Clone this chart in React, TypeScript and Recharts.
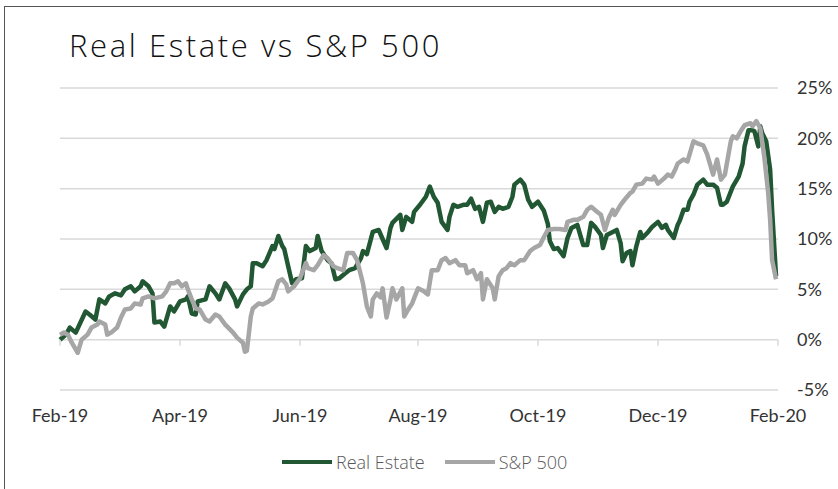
import { LineChart, Line, XAxis, YAxis, CartesianGrid } from "recharts";

// x axis: days since 1 Feb 2019
const TICK_DAYS = [0, 61, 122, 182, 243, 304, 365];
const TICK_LABELS = ["Feb-19", "Apr-19", "Jun-19", "Aug-19", "Oct-19", "Dec-19", "Feb-20"];
const Y_TICKS = [-5, 0, 5, 10, 15, 20, 25];

// Real Estate, cumulative return in %
const reDays = [
  0, 3, 5, 8, 13, 15, 18, 20, 23, 25, 28, 31, 33, 36, 38, 41, 42, 45, 47, 48,
  51, 53, 56, 58, 61, 64, 65, 67, 69, 70, 74, 76, 79, 81, 84, 86, 89, 90, 93, 95,
  97, 98, 100, 103, 105, 108, 109, 111, 113, 114, 116, 118, 120, 123, 125, 127, 130, 131, 133, 136,
  138, 140, 142, 145, 147, 150, 153, 154, 156, 159, 162, 164, 166, 168, 169, 173, 174, 176, 179, 180,
  183, 186, 188, 190, 192, 194, 197, 198, 200, 202, 205, 207, 209, 211, 213, 215, 217, 219, 221, 223,
  225, 228, 230, 231, 234, 236, 238, 240, 243, 246, 248, 249, 251, 253, 256, 258, 260, 263, 264, 266,
  268, 270, 272, 275, 276, 278, 281, 283, 285, 286, 288, 290, 291, 293, 295, 296, 299, 301, 304, 306,
  308, 309, 312, 314, 315, 317, 319, 320, 322, 324, 327, 329, 332, 334, 336, 337, 339, 341, 342, 345,
  347, 348, 350, 352, 353, 355, 356, 357, 359, 361, 362, 364,
];
const reValues = [
  0.0, 0.5, 1.2, 0.7, 2.8, 2.5, 2.0, 4.0, 3.6, 4.3, 4.6, 4.4, 5.0, 5.3, 4.8, 5.3, 5.8, 5.3, 4.6, 1.7,
  1.8, 1.3, 3.3, 2.8, 3.8, 4.0, 4.3, 2.6, 2.5, 3.8, 4.0, 5.3, 4.6, 4.0, 5.6, 5.1, 4.0, 3.3, 4.5, 5.0,
  5.3, 7.6, 7.6, 7.3, 7.9, 9.3, 9.0, 10.3, 9.3, 9.0, 7.3, 5.6, 6.0, 6.1, 9.3, 8.8, 9.1, 10.3, 8.8, 7.9,
  7.6, 6.0, 6.1, 6.6, 6.9, 7.1, 8.1, 8.8, 8.5, 10.7, 10.9, 10.0, 9.1, 11.1, 11.6, 12.4, 10.9, 12.2, 11.7, 12.7,
  13.4, 14.2, 15.2, 14.2, 13.6, 11.7, 10.9, 12.2, 13.4, 13.2, 13.4, 13.4, 14.0, 13.0, 13.2, 11.7, 13.6, 13.7, 12.7, 13.2,
  13.0, 13.2, 14.2, 15.4, 15.9, 15.4, 13.9, 13.2, 13.7, 12.8, 11.5, 9.8, 9.0, 9.1, 8.3, 10.1, 11.1, 11.4, 10.7, 9.4,
  9.4, 11.6, 11.2, 10.4, 9.1, 10.4, 10.7, 10.9, 9.6, 7.8, 8.6, 8.8, 7.4, 9.3, 10.7, 10.1, 10.7, 11.2, 11.7, 11.1,
  11.4, 10.9, 10.1, 11.4, 11.8, 12.9, 12.9, 13.7, 14.4, 15.4, 15.9, 15.4, 15.4, 15.1, 13.4, 13.4, 13.7, 14.7, 15.2, 16.2,
  17.5, 19.2, 20.8, 20.8, 20.7, 19.2, 21.2, 20.5, 19.7, 16.9, 12.9, 6.3,
];

// S&P 500, cumulative return in %
const spDays = [
  0, 2, 4, 6, 9, 11, 14, 16, 19, 20, 23, 24, 26, 29, 31, 33, 36, 38, 41, 42,
  45, 48, 52, 54, 56, 58, 60, 62, 64, 65, 67, 69, 71, 74, 76, 79, 81, 84, 85, 88,
  90, 93, 94, 95, 97, 98, 101, 103, 106, 108, 111, 113, 115, 116, 119, 122, 125, 126, 129, 131,
  134, 136, 139, 141, 144, 146, 149, 151, 154, 156, 158, 159, 161, 163, 164, 166, 168, 169, 171, 174,
  175, 177, 179, 182, 185, 187, 189, 192, 194, 196, 198, 201, 203, 206, 207, 210, 212, 214, 215, 217,
  220, 221, 223, 225, 227, 229, 231, 234, 236, 239, 241, 244, 246, 248, 251, 254, 257, 258, 261, 263,
  266, 268, 270, 273, 275, 277, 279, 281, 282, 285, 287, 290, 291, 293, 296, 298, 301, 302, 304, 307,
  309, 311, 313, 314, 317, 319, 322, 324, 327, 329, 332, 334, 336, 338, 341, 342, 344, 346, 348, 351,
  352, 354, 356, 358, 360, 361, 362, 364,
];
const spValues = [
  0.5, 0.7, 0.5, -0.3, -1.3, 0.0, 0.5, 1.2, 1.5, 1.8, 1.5, 0.5, 0.7, 1.2, 2.2, 3.0, 3.1, 3.6, 3.5, 4.1,
  4.3, 4.1, 4.3, 4.8, 5.6, 5.6, 5.8, 5.3, 5.6, 5.0, 4.0, 3.1, 3.0, 2.0, 1.8, 2.5, 2.3, 1.5, 1.3, 0.7,
  0.2, -0.3, -1.2, -1.1, 2.3, 3.1, 3.6, 3.5, 3.8, 4.1, 5.8, 6.0, 5.5, 4.8, 5.3, 6.1, 7.6, 7.1, 6.9, 7.4,
  8.4, 8.1, 7.3, 7.1, 6.9, 8.6, 8.6, 7.9, 5.6, 3.3, 2.3, 4.0, 4.6, 4.2, 5.1, 2.2, 4.0, 5.1, 4.0, 5.1,
  2.3, 3.0, 3.6, 5.1, 4.8, 4.5, 6.9, 6.9, 7.9, 8.1, 7.6, 7.9, 7.4, 7.4, 6.6, 6.9, 6.0, 6.6, 4.0, 6.0,
  5.1, 4.0, 6.3, 6.9, 7.1, 7.6, 7.4, 7.9, 7.9, 8.8, 9.1, 9.4, 10.2, 10.9, 11.0, 11.0, 10.9, 11.7, 11.9, 11.9,
  12.2, 12.9, 13.2, 12.7, 12.4, 10.9, 12.1, 12.9, 12.4, 13.4, 13.9, 14.6, 14.7, 15.4, 15.5, 16.0, 15.9, 16.2, 15.5, 16.0,
  16.4, 16.2, 17.0, 17.5, 17.9, 17.7, 19.7, 19.5, 19.3, 18.4, 16.4, 17.9, 15.9, 16.4, 19.7, 20.2, 20.0, 20.7, 21.3, 21.5,
  21.2, 21.7, 21.0, 18.2, 14.6, 11.9, 7.9, 6.0,
];

const realEstate = reDays.map((d, i) => ({ day: d, value: reValues[i] }));
const sp500 = spDays.map((d, i) => ({ day: d, value: spValues[i] }));

const GREEN = "#215732";
const GREY = "#a6a6a6";
const GRID = "#d9d9d9";
const TEXT = "#333333";
const FONT = "Lato, 'Open Sans', sans-serif";

const PLOT_TOP = 88;
const PLOT_BOTTOM = 390;
// y of the 0% line, where Excel puts the category axis
const ZERO_Y = PLOT_TOP + ((25 - 0) / 30) * (PLOT_BOTTOM - PLOT_TOP);

function XTick(props: any) {
  const { x, y, index } = props;
  return (
    <g>
      <line x1={x} x2={x} y1={ZERO_Y} y2={ZERO_Y + 6} stroke={GRID} strokeWidth={1.5} />
      <text x={x} y={y} dy="0.71em" textAnchor="middle" fill={TEXT} fontSize={18} fontFamily={FONT}>
        {TICK_LABELS[index]}
      </text>
    </g>
  );
}

function LegendItem({ color, label }: { color: string; label: string }) {
  return (
    <div style={{ display: "flex", alignItems: "center" }}>
      <div style={{ width: 50, height: 4, background: color, marginRight: 4 }} />
      <span style={{ fontSize: 18, color: "#595959" }}>{label}</span>
    </div>
  );
}

export default function App() {
  return (
    <div style={{ position: "absolute", left: 0, top: 0, width: 838, height: 489, background: "#fff", overflow: "hidden" }}>
      {/* frame, only top and left edges are visible in the crop */}
      <div style={{ position: "absolute", left: 4, top: 6, width: 900, height: 600, borderLeft: "1.5px solid #555", borderTop: "1.5px solid #555" }} />

      <div style={{ position: "absolute", left: 69, top: 25, fontFamily: "'Open Sans', sans-serif", fontWeight: 300, fontSize: 31, letterSpacing: 2.6, color: "#111", lineHeight: "40px", whiteSpace: "nowrap" }}>
        Real Estate vs S&amp;P 500
      </div>

      <div style={{ position: "absolute", left: 0, top: 0 }}>
        <LineChart width={838} height={489} margin={{ top: PLOT_TOP, right: 10, bottom: 69, left: 60 }}>
          <CartesianGrid vertical={false} stroke={GRID} strokeWidth={1.5} />
          <XAxis
            dataKey="day"
            type="number"
            domain={[0, 365]}
            ticks={TICK_DAYS}
            interval={0}
            axisLine={false}
            tickLine={false}
            tickSize={0}
            tickMargin={19}
            height={30}
            tick={<XTick />}
            allowDuplicatedCategory={false}
          />
          <YAxis
            orientation="right"
            domain={[-5, 25]}
            ticks={Y_TICKS}
            interval={0}
            width={50}
            axisLine={false}
            tickLine={false}
            tickSize={0}
            tickMargin={19}
            tickFormatter={(v: number) => `${v}%`}
            tick={{ fontSize: 18, fill: TEXT, fontFamily: FONT, textAnchor: "start" }}
          />
          <Line data={realEstate} dataKey="value" type="linear" stroke={GREEN} strokeWidth={4.5}
            dot={false} strokeLinejoin="round" isAnimationActive={false} />
          <Line data={sp500} dataKey="value" type="linear" stroke={GREY} strokeWidth={4.5}
            dot={false} strokeLinejoin="round" isAnimationActive={false} />
        </LineChart>
      </div>

      <div style={{ position: "absolute", left: 282, top: 450, display: "flex", gap: 20, fontFamily: "'Open Sans', sans-serif", fontWeight: 300 }}>
        <LegendItem color={GREEN} label="Real Estate" />
        <LegendItem color={GREY} label="S&P 500" />
      </div>
    </div>
  );
}
